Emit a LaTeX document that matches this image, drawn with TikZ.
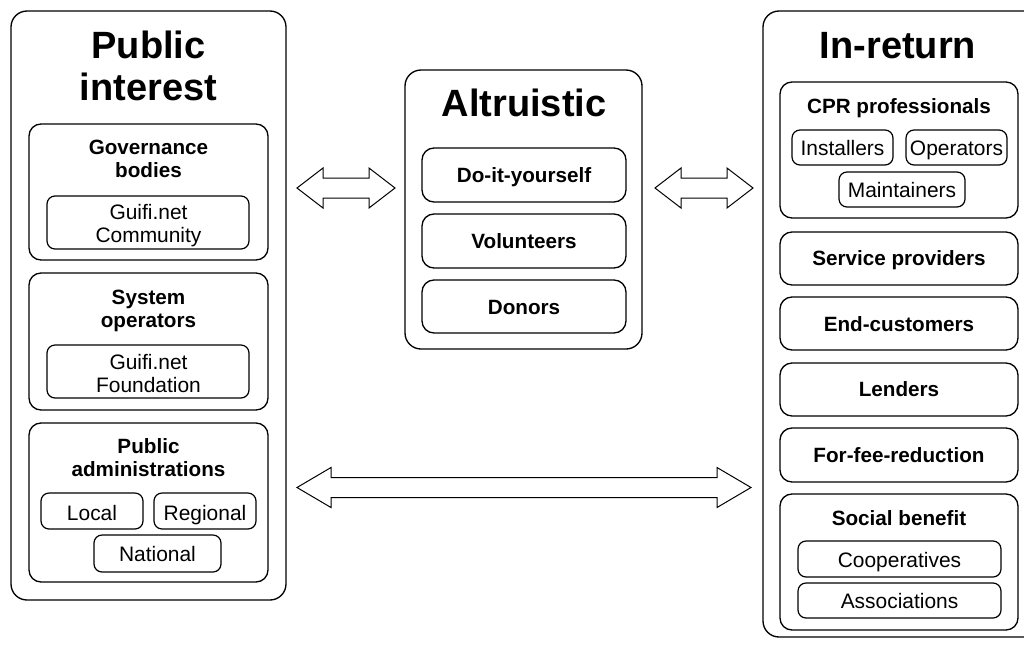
\documentclass[tikz,border=0pt]{standalone}
\usepackage{fontspec}
\setmainfont{Liberation Sans}
\usetikzlibrary{fit,calc}

\tikzset{
  bigbox/.style={draw, line width=1pt, rounded corners=12pt, inner sep=0pt},
  midbox/.style={draw, line width=1pt, rounded corners=9pt, inner sep=0pt},
  smallbox/.style={draw, line width=0.9pt, rounded corners=6pt, inner sep=0pt},
  txt/.style={inner sep=0pt, anchor=base, align=center},
  titletxt/.style={txt, font=\fontsize{28.5}{31.5}\selectfont\bfseries},
  headtxt/.style={txt, font=\fontsize{15.5}{17.25}\selectfont\bfseries},
  plaintxt/.style={txt, font=\fontsize{15.7}{17.25}\selectfont},
  arrowline/.style={draw, line width=0.75pt, line join=miter}
}

% block double arrow between two named points, head length #3
\newcommand{\dblarrow}[3]{%
  \draw[arrowline] (#1) -- ++(#3,-20) -- ++(0,10) -- ($(#2)+(-#3,-10)$)
    -- ++(0,-10) -- (#2) -- ++(-#3,20) -- ++(0,-10) -- ($(#1)+(#3,10)$)
    -- ++(0,10) -- cycle;}

\begin{document}
\begin{tikzpicture}[x=0.75pt, y=-0.75pt]
\useasboundingbox (0,0) rectangle (1024,644);
\fill[white] (0,0) rectangle (1024,644);
\clip (0,0) rectangle (1024,644);

% ---- Public interest column (two-line labels sit on their last baseline)
\node[bigbox, fit={(11,11) (286,600)}] (pub) {};
\node[titletxt] (pubT) at (148.5,100) {Public\\interest};

\node[midbox, fit={(29,124) (268,260)}] (gov) {};
\node[headtxt] (govT) at (148.5,177) {Governance\\bodies};
\node[smallbox, fit={(47,196) (249,249)}] (govin) {};
\node[plaintxt] (govinT) at (148.5,242) {Guifi.net\\Community};

\node[midbox, fit={(29,273) (268,410)}] (sys) {};
\node[headtxt] (sysT) at (148.5,327) {System\\operators};
\node[smallbox, fit={(47,345) (249,398)}] (sysin) {};
\node[plaintxt] (sysinT) at (148.5,392) {Guifi.net\\Foundation};

\node[midbox, fit={(29,423) (268,582)}] (adm) {};
\node[headtxt] (admT) at (148.5,476) {Public\\administrations};
\node[smallbox, fit={(41,493) (143,529)}] (loc) {};
\node[plaintxt] (locT) at (92,520) {Local};
\node[smallbox, fit={(154,493) (256,529)}] (reg) {};
\node[plaintxt] (regT) at (205,520) {Regional};
\node[smallbox, fit={(94,535) (221,572)}] (nat) {};
\node[plaintxt] (natT) at (157.5,561) {National};

% ---- Altruistic column
\node[bigbox, fit={(405,70) (642,349)}] (alt) {};
\node[titletxt] (altT) at (524,116) {Altruistic};
\node[midbox, fit={(422,148) (626,202)}] (diy) {};
\node[headtxt] (diyT) at (524,182) {Do-it-yourself};
\node[midbox, fit={(422,214) (626,268)}] (vol) {};
\node[headtxt] (volT) at (524,248) {Volunteers};
\node[midbox, fit={(422,280) (626,333)}] (don) {};
\node[headtxt] (donT) at (524,314) {Donors};

% ---- In-return column
\node[bigbox, fit={(763,11) (1040,637)}] (ret) {};
\node[titletxt] (retT) at (898,58) {In-return};

\node[midbox, fit={(780,82) (1018,218)}] (cpr) {};
\node[headtxt] (cprT) at (899,113) {CPR professionals};
\node[smallbox, fit={(792,130) (893,165)}] (ins) {};
\node[plaintxt] (insT) at (842.5,155) {Installers};
\node[smallbox, fit={(906,130) (1007,165)}] (ope) {};
\node[plaintxt] (opeT) at (956.5,155) {Operators};
\node[smallbox, fit={(839,172) (965,207)}] (mai) {};
\node[plaintxt] (maiT) at (902,197) {Maintainers};

\node[midbox, fit={(780,232) (1018,285)}] (srv) {};
\node[headtxt] (srvT) at (899,265) {Service providers};
\node[midbox, fit={(780,297) (1018,350)}] (end) {};
\node[headtxt] (endT) at (899,331) {End-customers};
\node[midbox, fit={(780,363) (1018,416)}] (len) {};
\node[headtxt] (lenT) at (899,396) {Lenders};
\node[midbox, fit={(780,428) (1018,482)}] (fee) {};
\node[headtxt] (feeT) at (899,462) {For-fee-reduction};

\node[midbox, fit={(780,494) (1018,630)}] (soc) {};
\node[headtxt] (socT) at (899,525) {Social benefit};
\node[smallbox, fit={(798,541) (1001,577)}] (coo) {};
\node[plaintxt] (cooT) at (899.5,567) {Cooperatives};
\node[smallbox, fit={(798,583) (1001,618)}] (ass) {};
\node[plaintxt] (assT) at (899.5,608) {Associations};

% ---- block arrows between the columns
\coordinate (a1l) at (297,188);
\coordinate (a1r) at (395,188);
\coordinate (a2l) at (655,188);
\coordinate (a2r) at (753,188);
\coordinate (a3l) at (297,487.5);
\coordinate (a3r) at (751,487.5);
\dblarrow{a1l}{a1r}{26}
\dblarrow{a2l}{a2r}{26}
\dblarrow{a3l}{a3r}{34}
\end{tikzpicture}
\end{document}
